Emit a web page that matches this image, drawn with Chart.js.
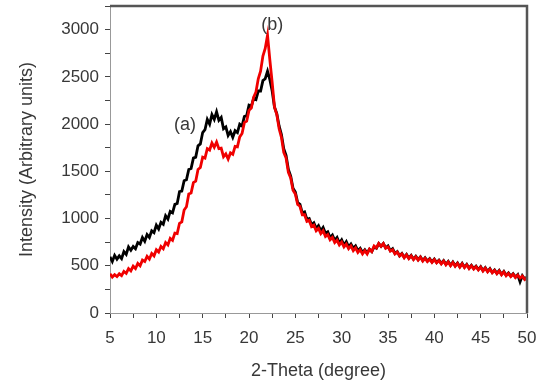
<!DOCTYPE html>
<html lang="en">
<head>
  <meta charset="UTF-8">
  <title>XRD patterns (a) and (b)</title>
  <script src="https://cdn.jsdelivr.net/npm/chart.js"></script>
  <style>
    body { margin: 0; background: #fff; }
    #xrd { display: block; }
  </style>
</head>
<body>
  <canvas id="xrd" width="541" height="385"></canvas>

  <script>
    // 2-theta grid: 5 to 50 deg, 0.25 deg per reading
    const thetaStart = 5;
    const thetaStep = 0.25;

    // sample (a) - black
    const countsA = [
      595, 545, 610, 570,   605, 575, 650, 620,   700, 665, 705, 680,   745, 730, 800, 760,
      830, 800, 870, 850,   930, 890, 960, 940,   1030, 995, 1075, 1060, 1150, 1160, 1285, 1290,
      1400, 1410, 1520, 1530, 1640, 1650, 1770, 1790, 1910, 1940, 2050, 2000, 2100, 2050, 2130, 2040,
      2070, 1950, 1970, 1880, 1920, 1860, 1930, 1910, 2000, 1980, 2080, 2090, 2200, 2190, 2270, 2260,
      2350, 2350, 2460, 2480, 2560, 2470, 2350, 2180, 2110, 1980, 1890, 1740, 1670, 1520, 1450, 1320,
      1280, 1170, 1150, 1060, 1070, 990, 1000, 935,  955, 895, 925, 870,   905, 845, 860, 800,
      825, 770, 800, 740,   775, 720, 755, 700,   730, 685, 710, 660,   685, 640, 670, 635,
      675, 650, 700, 685,   735, 705, 735, 690,   710, 660, 680, 630,   650, 605, 630, 590,
      620, 580, 610, 570,   600, 565, 595, 555,   585, 550, 575, 540,   570, 535, 560, 525,
      555, 515, 545, 505,   540, 500, 530, 490,   525, 485, 515, 475,   505, 470, 495, 460,
      490, 450, 480, 440,   470, 430, 455, 420,   450, 410, 440, 400,   425, 390, 415, 380,
      405, 330, 395, 360,   380
    ];

    // sample (b) - red
    const countsB = [
      415, 380, 405, 385,   415, 395, 440, 420,   470, 445, 495, 470,   525, 500, 560, 545,
      600, 570, 630, 605,   670, 645, 705, 680,   745, 720, 790, 770,   845, 840, 950, 965,
      1090, 1125, 1260, 1270, 1380, 1395, 1520, 1540, 1650, 1640, 1740, 1725, 1800, 1755, 1810, 1740,
      1745, 1655, 1685, 1630, 1695, 1680, 1765, 1760, 1865, 1900, 2015, 2030, 2145, 2170, 2285, 2340,
      2480, 2560, 2720, 2800, 2940, 2680, 2440, 2180, 2100, 1950, 1860, 1700, 1640, 1490, 1430, 1300,
      1260, 1150, 1130, 1040, 1040, 970, 980, 915,  930, 870, 895, 840,   870, 810, 830, 775,
      800, 745, 770, 720,   750, 700, 730, 680,   710, 660, 690, 640,   670, 625, 660, 625,
      675, 650, 710, 690,   735, 705, 735, 685,   700, 655, 670, 625,   645, 605, 625, 585,
      615, 575, 605, 565,   595, 560, 590, 550,   580, 545, 570, 535,   565, 530, 555, 520,
      550, 510, 540, 500,   535, 495, 525, 485,   520, 480, 510, 470,   500, 465, 490, 455,
      485, 445, 475, 435,   465, 425, 450, 415,   445, 405, 435, 395,   420, 385, 410, 375,
      400, 370, 390, 355,   375
    ];

    const peakLabels = ['(a)', '(b)'];

    const toPoints = counts => counts.map((y, i) => ({ x: thetaStart + i * thetaStep, y }));

    const fontFamily = '"Liberation Sans", Arial, sans-serif';
    const inkColor = '#383838';

    // frame on top + right, and the (a)/(b) markers
    const extras = {
      id: 'extras',
      afterDraw(chart) {
        const { ctx, chartArea: a, scales: { x, y } } = chart;
        ctx.save();
        ctx.strokeStyle = '#555';
        ctx.lineWidth = 2.5;
        ctx.beginPath();
        ctx.moveTo(a.left, a.top);
        ctx.lineTo(a.right, a.top);
        ctx.lineTo(a.right, a.bottom);
        ctx.stroke();

        ctx.fillStyle = inkColor;
        ctx.font = '18px ' + fontFamily;
        ctx.textAlign = 'center';
        ctx.textBaseline = 'middle';
        ctx.fillText(peakLabels[0], x.getPixelForValue(13.1), y.getPixelForValue(1990));
        ctx.fillText(peakLabels[1], x.getPixelForValue(22.5), y.getPixelForValue(3045));
        ctx.restore();
      }
    };

    new Chart(document.getElementById('xrd'), {
      type: 'line',
      data: {
        datasets: [
          {
            label: '(b)',
            data: toPoints(countsB),
            borderColor: 'rgb(240,0,0)',
            borderWidth: 2.8,
            pointRadius: 0,
            tension: 0,
            order: 1
          },
          {
            label: '(a)',
            data: toPoints(countsA),
            borderColor: '#000',
            borderWidth: 2.8,
            pointRadius: 0,
            tension: 0,
            order: 2
          }
        ]
      },
      options: {
        responsive: false,
        animation: false,
        layout: { padding: { top: 6, right: 14, left: 0, bottom: 0 } },
        plugins: { legend: { display: false }, tooltip: { enabled: false } },
        scales: {
          x: {
            type: 'linear',
            min: 5,
            max: 50,
            afterFit: s => { s.height = 72; s.paddingLeft = 0; s.paddingRight = 0; },
            border: { color: '#999', width: 1 },
            grid: { drawOnChartArea: false, tickLength: 5, color: '#444' },
            ticks: {
              stepSize: 2.5,
              autoSkip: false,
              maxRotation: 0,
              padding: 10,
              color: inkColor,
              font: { family: fontFamily, size: 17 },
              callback: v => (v % 5 === 0 ? v : '')
            },
            title: {
              display: true,
              text: '2-Theta (degree)',
              color: inkColor,
              font: { family: fontFamily, size: 18 },
              padding: { top: 0, bottom: 3 }
            }
          },
          y: {
            min: 0,
            max: 3250,
            afterFit: s => { s.width = 110; s.paddingTop = 0; s.paddingBottom = 0; },
            border: { color: '#999', width: 1 },
            grid: { drawOnChartArea: false, tickLength: 5, color: '#444' },
            ticks: {
              stepSize: 250,
              autoSkip: false,
              padding: 6,
              color: inkColor,
              font: { family: fontFamily, size: 17 },
              callback: v => (v % 500 === 0 ? v : '')
            },
            title: {
              display: true,
              text: 'Intensity (Arbitrary units)',
              color: inkColor,
              font: { family: fontFamily, size: 18 },
              padding: { top: 16, bottom: 0 }
            }
          }
        }
      },
      plugins: [extras]
    });
  </script>
</body>
</html>
